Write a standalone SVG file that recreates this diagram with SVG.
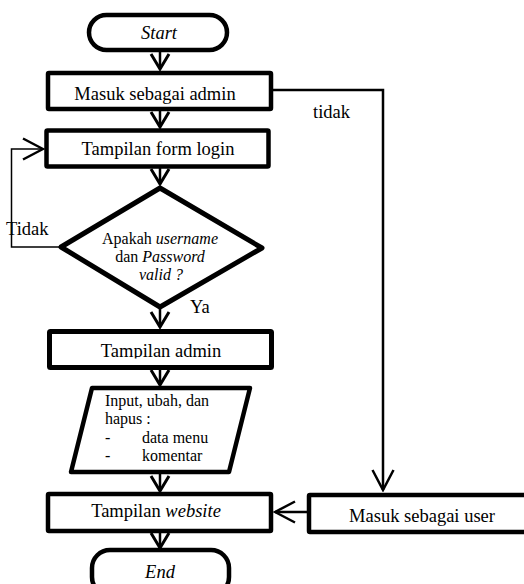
<svg xmlns="http://www.w3.org/2000/svg" width="524" height="584" viewBox="0 0 524 584">
<style>
.shape{fill:#fff;stroke:#000;stroke-width:4.5;stroke-linejoin:round}
.t{font-family:"Liberation Serif","Times New Roman",serif;font-size:18.5px;fill:#000}
.s{font-family:"Liberation Serif","Times New Roman",serif;font-size:16px;fill:#000}
.i{font-style:italic}
.c{fill:none;stroke:#000;stroke-width:2.5}
</style>
<defs>
<marker id="v" viewBox="-18 -12 20 24" markerWidth="20" markerHeight="24" refX="0" refY="0" markerUnits="userSpaceOnUse" orient="auto">
<path d="M-15,-9 L0,0 L-15,9" fill="none" stroke="#000" stroke-width="3"/>
</marker>
<marker id="w" viewBox="-23 -13 25 26" markerWidth="25" markerHeight="26" refX="0" refY="0" markerUnits="userSpaceOnUse" orient="auto">
<path d="M-20,-10.5 L0,0 L-20,10.5" fill="none" stroke="#000" stroke-width="2.5"/>
</marker>
<clipPath id="clipAdmin"><rect x="50" y="332" width="220" height="26.5"/></clipPath>
</defs>

<g id="connectors">
<path class="c" d="M160 52 V69" marker-end="url(#v)"/>
<path class="c" d="M160 111 V127" marker-end="url(#v)"/>
<path class="c" d="M160 168 V184" marker-end="url(#v)"/>
<path class="c" d="M160 309 V327" marker-end="url(#v)"/>
<path class="c" d="M160 370 V385" marker-end="url(#v)"/>
<path class="c" d="M160 474 V491" marker-end="url(#v)"/>
<path class="c" d="M160 533 V548" marker-end="url(#v)"/>
<path class="c" d="M273 90 H383 V490" marker-end="url(#w)"/>
<path class="c" style="stroke-width:1.5" d="M59 247 H11.5 V149 H43" marker-end="url(#w)"/>
<path class="c" d="M309 512 H275" marker-end="url(#w)"/>
<text class="t" x="313" y="118">tidak</text>
<text class="t" x="6" y="235">Tidak</text>
<text class="t" x="190" y="313">Ya</text>
</g>

<g id="start">
<rect class="shape" x="89" y="15" width="138" height="35" rx="17.5"/>
<text class="t i" x="159" y="39" text-anchor="middle">Start</text>
</g>

<g id="masuk-admin">
<rect class="shape" x="48" y="73" width="223" height="36" rx="1"/>
<text class="t" x="155" y="100" text-anchor="middle">Masuk sebagai admin</text>
</g>

<g id="form-login">
<rect class="shape" x="46.5" y="130.5" width="222" height="36" rx="1"/>
<text class="t" x="158" y="155" text-anchor="middle">Tampilan form login</text>
</g>

<g id="decision">
<polygon class="shape" style="stroke-width:5" points="160,188 262,248 160,307 61,247"/>
<text class="s" x="160" y="244" text-anchor="middle">Apakah <tspan class="i">username</tspan></text>
<text class="s" x="160" y="262" text-anchor="middle">dan <tspan class="i">Password</tspan></text>
<text class="s i" x="161" y="280" text-anchor="middle">valid ?</text>
</g>

<g id="tampilan-admin">
<rect class="shape" style="stroke-width:5" x="49.5" y="331.5" width="222" height="36" rx="1"/>
<text class="t" x="161" y="357" text-anchor="middle" clip-path="url(#clipAdmin)">Tampilan admin</text>
</g>

<g id="input-data">
<polygon class="shape" points="92,388 250,388 229,472 71,472"/>
<text class="s" x="105" y="406">Input, ubah, dan</text>
<text class="s" x="105" y="424">hapus :</text>
<text class="s" x="105" y="443">-</text>
<text class="s" x="142" y="443">data menu</text>
<text class="s" x="105" y="461">-</text>
<text class="s" x="142" y="461">komentar</text>
</g>

<g id="tampilan-website">
<rect class="shape" x="48" y="494" width="223" height="37" rx="1"/>
<text class="t" x="156" y="517" text-anchor="middle">Tampilan <tspan class="i">website</tspan></text>
</g>

<g id="masuk-user">
<rect class="shape" x="309" y="495" width="230" height="37" rx="1"/>
<text class="t" x="422" y="522" text-anchor="middle">Masuk sebagai user</text>
</g>

<g id="end">
<rect class="shape" x="92" y="550" width="137" height="45" rx="18"/>
<text class="t i" x="160" y="578" text-anchor="middle">End</text>
</g>
</svg>
